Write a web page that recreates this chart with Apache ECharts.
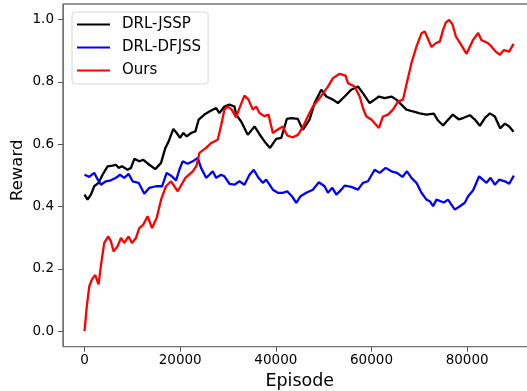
<!DOCTYPE html>
<html><head><meta charset="utf-8">
<script src="https://cdn.jsdelivr.net/npm/echarts@6/dist/echarts.min.js"></script>
<style>html,body{margin:0;padding:0;background:#fff}#c{width:527px;height:391px}</style>
</head><body><div id="c"></div>
<script>
const seriesNames = ['DRL-JSSP', 'DRL-DFJSS', 'Ours'];
const xTicks = [0, 20000, 40000, 60000, 80000];
const yTicks = [0, 0.2, 0.4, 0.6, 0.8, 1.0];

const jsspX = [0,630,1340,2030,2930,3770,4820,5860,6570,7120,7830,9000,9720,10410,11450,12290,13550,14800,16000,16900,17590,18570,19270,19980,20670,21360,22280,23180,23870,25070,26110,27520,28210,29250,30300,31350,31700,32750,34130,35540,36580,37630,38780,40080,41130,42300,43220,44600,45650,47050,48100,49500,50550,51940,52980,54380,55780,57170,58210,59620,60660,61560,62760,64160,65210,66250,67300,68680,70090,71490,73020,73920,74970,75680,77000,78220,79160,80570,81610,82660,83700,84750,85790,86900,87890,88790,89700];
const jsspY = [0.438,0.422,0.438,0.465,0.476,0.502,0.529,0.531,0.534,0.524,0.529,0.518,0.524,0.553,0.545,0.55,0.534,0.52,0.54,0.588,0.609,0.649,0.636,0.62,0.636,0.625,0.636,0.641,0.679,0.695,0.705,0.716,0.7,0.721,0.727,0.721,0.695,0.673,0.63,0.657,0.632,0.609,0.588,0.617,0.62,0.681,0.684,0.681,0.646,0.679,0.732,0.775,0.753,0.743,0.732,0.753,0.775,0.785,0.764,0.732,0.743,0.753,0.748,0.753,0.743,0.727,0.711,0.705,0.699,0.695,0.698,0.676,0.66,0.673,0.695,0.68,0.684,0.693,0.679,0.659,0.684,0.699,0.689,0.651,0.666,0.657,0.64];

const dfjssX = [0,980,2030,2720,3430,4480,5520,6570,7410,8310,9210,10050,11310,12500,13550,14950,16210,17170,18090,19140,19830,20520,21570,22620,23660,24370,25420,26110,26800,27520,28560,29250,30300,31350,32390,33440,34490,35390,36370,37280,37980,38680,39370,40410,41460,42380,43350,44270,45170,46360,47740,49000,50190,50890,51810,52650,53690,54380,55780,57170,58210,59260,60660,61710,62970,64160,65330,66460,67420,68350,69400,70450,71490,72180,72880,73590,75120,76010,77420,78470,79510,80200,81250,82510,84050,84890,85790,86700,87890,88790,89770];
const dfjssY = [0.502,0.495,0.508,0.488,0.47,0.481,0.484,0.492,0.502,0.492,0.505,0.481,0.476,0.441,0.46,0.465,0.465,0.508,0.499,0.484,0.518,0.545,0.537,0.545,0.556,0.524,0.492,0.502,0.513,0.492,0.502,0.497,0.473,0.47,0.481,0.47,0.502,0.518,0.492,0.476,0.486,0.47,0.454,0.444,0.444,0.449,0.433,0.412,0.433,0.444,0.454,0.478,0.465,0.444,0.46,0.438,0.454,0.467,0.463,0.454,0.476,0.481,0.518,0.508,0.524,0.513,0.508,0.495,0.513,0.492,0.476,0.444,0.422,0.417,0.401,0.422,0.413,0.422,0.39,0.401,0.412,0.433,0.452,0.497,0.476,0.492,0.47,0.486,0.481,0.473,0.499];

const oursX = [0,480,1000,1550,2240,2930,3430,4120,4960,5520,6080,6910,7620,8310,9210,9920,10760,11450,12290,13190,14110,15080,16000,17040,18090,19480,21090,22620,23400,24020,25420,26470,27850,28560,29250,29940,30780,31700,32390,33440,34280,35180,35890,36580,37630,38470,39370,40410,41460,42380,43560,44600,45650,46700,47740,49150,50890,51940,53330,54590,55070,56480,57520,58210,58930,59970,61560,62400,63450,64490,65540,66590,67300,68350,69400,70450,71140,71490,72540,73440,74300,74970,75530,76220,76930,77630,78820,79870,81250,82300,83000,84390,85100,86000,86840,87680,88790,89700];
const oursY = [0.0,0.08,0.144,0.166,0.18,0.15,0.21,0.283,0.304,0.288,0.256,0.272,0.299,0.283,0.304,0.283,0.299,0.331,0.342,0.369,0.331,0.363,0.422,0.465,0.481,0.449,0.492,0.513,0.53,0.572,0.588,0.604,0.614,0.66,0.711,0.721,0.711,0.686,0.716,0.756,0.743,0.711,0.721,0.7,0.69,0.695,0.636,0.647,0.657,0.628,0.622,0.63,0.655,0.69,0.721,0.748,0.785,0.812,0.826,0.82,0.796,0.785,0.753,0.716,0.689,0.679,0.652,0.689,0.695,0.711,0.737,0.743,0.791,0.86,0.913,0.956,0.962,0.96,0.912,0.924,0.93,0.967,0.99,0.999,0.985,0.946,0.917,0.89,0.935,0.957,0.934,0.924,0.913,0.897,0.887,0.902,0.897,0.922];

const zip = (xs, ys) => xs.map((x, i) => [x, ys[i]]);
const FONT = 'DejaVu Sans';
const chart = echarts.init(document.getElementById('c'), null, {renderer: 'canvas'});
chart.setOption({
  animation: false,
  backgroundColor: '#fff',
  grid: {left: 63, top: 4, width: 473.5, height: 342.7, show: true, borderColor: '#333', borderWidth: 1, containLabel: false, outerBoundsMode: 'none'},
  legend: {
    orient: 'vertical', left: 72, top: 12,
    padding: [5, 7, 6, 5], itemGap: 8, itemWidth: 33, itemHeight: 2, icon: 'rect',
    backgroundColor: '#fff', borderColor: '#d6d6d6', borderWidth: 1, borderRadius: 3,
    textStyle: {fontFamily: FONT, fontSize: 15, color: '#000', padding: [0, 0, 0, 7]},
    data: seriesNames
  },
  xAxis: {
    type: 'value', min: -4500, max: 94500,
    name: 'Episode', nameLocation: 'middle', nameGap: 25,
    nameTextStyle: {fontFamily: FONT, fontSize: 17.5, color: '#000'},
    axisLine: {show: true, onZero: false, lineStyle: {color: '#707070', width: 1}},
    axisTick: {show: true, length: 5, inside: false, customValues: xTicks, lineStyle: {color: '#555'}},
    axisLabel: {margin: 7, fontFamily: FONT, fontSize: 13.5, color: '#000', customValues: xTicks, formatter: v => String(v)},
    splitLine: {show: false}
  },
  yAxis: {
    type: 'value', min: -0.05, max: 1.05,
    name: 'Reward', nameLocation: 'middle', nameGap: 37, nameMoveOverlap: false,
    nameTextStyle: {fontFamily: FONT, fontSize: 16.5, color: '#000', padding: [0, 0, 0, 10]},
    axisLine: {show: true, onZero: false, lineStyle: {color: '#707070', width: 1}},
    axisTick: {show: true, length: 5, inside: false, customValues: yTicks, lineStyle: {color: '#555'}},
    axisLabel: {margin: 9, fontFamily: FONT, fontSize: 13.5, color: '#000', customValues: yTicks, formatter: v => v.toFixed(1)},
    splitLine: {show: false}
  },
  series: [
    {name: seriesNames[0], type: 'line', data: zip(jsspX, jsspY), showSymbol: false, symbol: 'none', color: '#000000', lineStyle: {width: 2.3, color: '#000000'}},
    {name: seriesNames[1], type: 'line', data: zip(dfjssX, dfjssY), showSymbol: false, symbol: 'none', color: '#0000ff', lineStyle: {width: 2.3, color: '#0000ff'}},
    {name: seriesNames[2], type: 'line', data: zip(oursX, oursY), showSymbol: false, symbol: 'none', color: '#ff0000', lineStyle: {width: 2.3, color: '#ff0000'}}
  ]
});
</script>
</body></html>
